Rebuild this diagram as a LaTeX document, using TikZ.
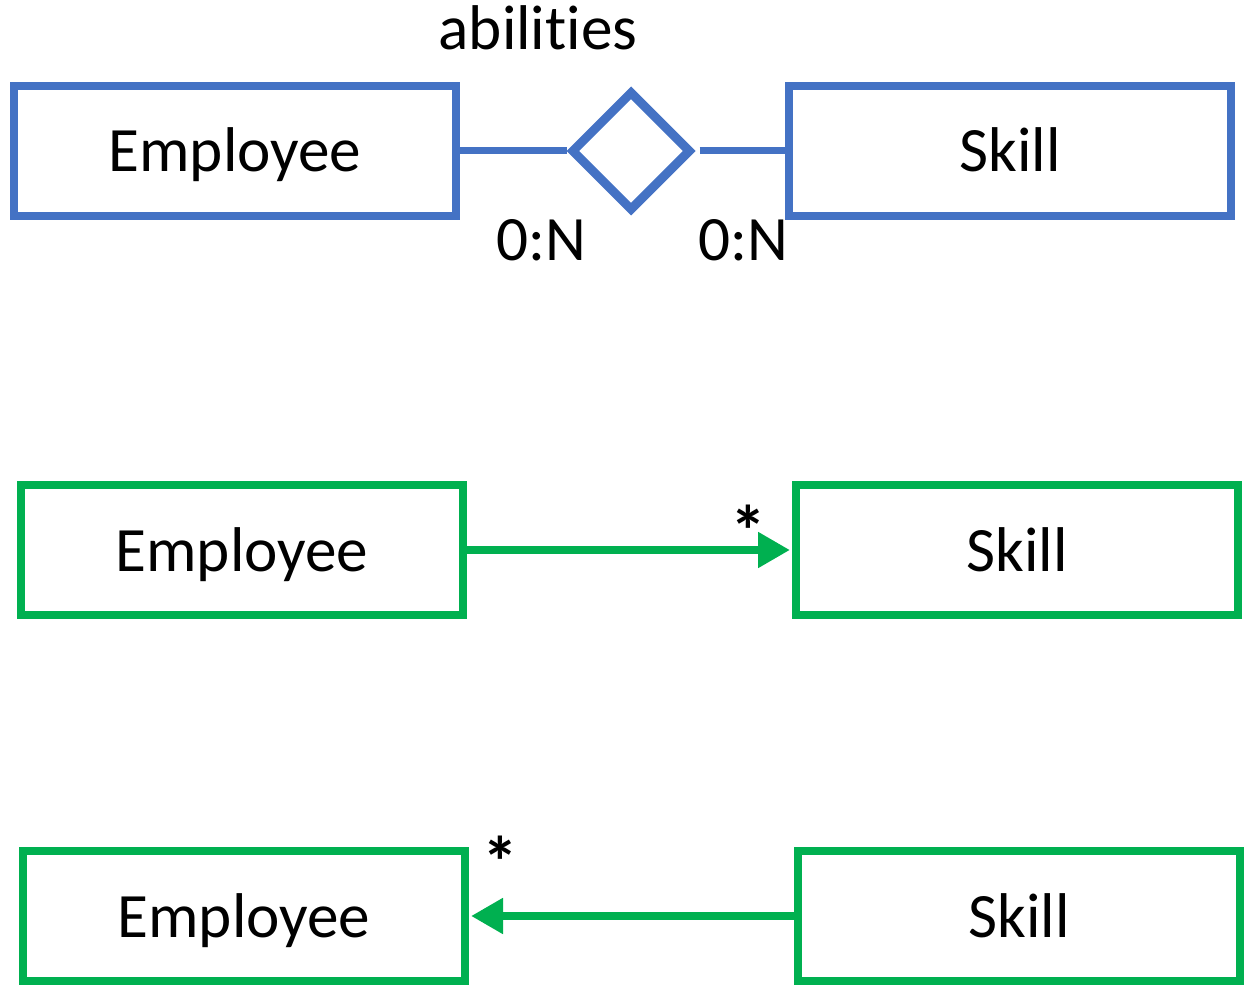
\documentclass[tikz,border=0pt]{standalone}
\usepackage{fontspec}
\setmainfont[Ligatures=NoCommon]{Carlito}
\usetikzlibrary{shapes.geometric,arrows.meta}
\definecolor{erblue}{RGB}{68,114,196}
\definecolor{umlgreen}{RGB}{0,176,80}
\begin{document}
\begin{tikzpicture}[x=0.5pt,y=-0.5pt,font=\fontsize{31.6pt}{38pt}\selectfont,
	line join=miter,
	box/.style={draw,line width=4pt,minimum width=221pt,minimum height=65pt,inner sep=0pt,text height=27pt,text depth=6pt},
	rel/.style={draw=erblue,diamond,aspect=1,line width=4.5pt,minimum size=60pt,inner sep=0pt},
	erline/.style={erblue,line width=3.5pt},
	garrow/.style={umlgreen,line width=4pt,-{Triangle[length=16pt,width=17pt]}}]
	\useasboundingbox (0,0) rectangle (1259,1000);
	% ER notation
	\node[box,draw=erblue] (emp1) at (235,151) {Employee};
	\node[box,draw=erblue] (skl1) at (1010,151) {Skill};
	\node[rel] (abil) at (631,151) {};
	\draw[erline] (emp1.east)--(abil.west);
	\draw[erline] ([xshift=2pt]abil.east)--(skl1.west);
	\node (lab) at (538,28) {abilities};
	\node (cl) at (541,240) {0:N};
	\node (cr) at (743,240) {0:N};
	% UML, both directions
	\foreach \y/\d/\s in {550/2/1,916/3/2}
		{\node[box,draw=umlgreen] (emp\d) at (240+2*\s,\y) {Employee};
		 \node[box,draw=umlgreen] (skl\d) at (1015+2*\s,\y) {Skill};}
	\draw[garrow,shorten >=1pt] (emp2.east)--(skl2.west);
	\draw[garrow,shorten >=1pt] (skl3.west)--(emp3.east);
	\node[font=\fontsize{36pt}{40pt}\selectfont\bfseries] (m2) at (748,531) {*};
	\node[font=\fontsize{36pt}{40pt}\selectfont\bfseries] (m3) at (500,862) {*};
\end{tikzpicture}
\end{document}
